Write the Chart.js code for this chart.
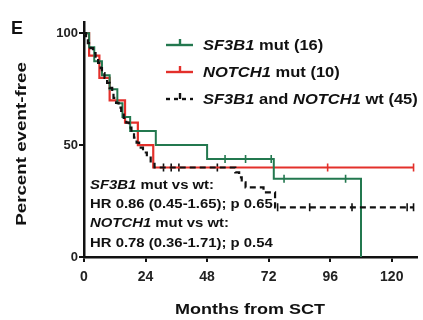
<!DOCTYPE html>
<html><head><meta charset="utf-8">
<script src="https://cdn.jsdelivr.net/npm/chart.js@4.4.1/dist/chart.umd.min.js"></script>
<style>html,body{margin:0;padding:0;background:#fff;}#wrap{width:423px;height:320px;position:relative;}</style>
</head><body><div id="wrap"><canvas id="c" width="423" height="320"></canvas></div>
<script>
// ---- data ----
const xTicks = [0, 24, 48, 72, 96, 120];
const yTicks = [0, 50, 100];

const sf3b1Times = [0, 2, 4, 7, 10, 13, 15, 18, 28, 48, 74, 108];
const sf3b1Surv  = [100, 93.75, 87.5, 81.25, 75, 68.75, 62.5, 56.25, 50, 43.75, 35, 0];
const sf3b1Censor = [55, 63, 73, 78, 102];

const notch1Times = [0, 2, 6, 10, 16, 21, 27, 128.5];
const notch1Surv  = [100, 90, 80, 70, 60, 50, 40, 40];
const notch1Censor = [95, 128.5];

const wtTimes = [0, 0.8, 1.5, 2.5, 3.5, 4.5, 5.5, 6.5, 7, 8, 9, 10, 11, 11.5, 12.5, 13.5, 14.5, 15.5, 16.5, 17.5, 18.5, 19.5, 20.5, 21.5, 23, 24.5, 26, 27.5, 59, 60.5, 61.5, 63, 70, 74.5, 128.5];
const wtSurv  = [100, 97.8, 95.6, 93.3, 91.1, 88.9, 86.7, 84.4, 82.2, 80, 77.8, 75.6, 73.3, 71.1, 68.9, 66.7, 64.4, 62.2, 60, 57.8, 55.6, 53.3, 51.1, 48.9, 46.7, 44.4, 42.2, 40, 37.8, 35.6, 33.3, 31.1, 28.9, 22.2, 22.2];
const wtCensor = [31, 34, 37, 52, 75.5, 88, 104.5, 126, 128.5];

const legendLabels = [
  [["SF3B1", true], [" mut (16)", false]],
  [["NOTCH1", true], [" mut (10)", false]],
  [["SF3B1", true], [" and ", false], ["NOTCH1", true], [" wt (45)", false]]
];
const noteLines = [
  [["SF3B1", true], [" mut vs wt:", false]],
  [["HR 0.86 (0.45-1.65); p 0.65", false]],
  [["NOTCH1", true], [" mut vs wt:", false]],
  [["HR 0.78 (0.36-1.71); p 0.54", false]]
];

const GREEN = '#23784f', RED = '#e3302b', BLACK = '#111111';
const FONT = '"Liberation Sans", Arial, sans-serif';

function pts(t, s) { return t.map((v, i) => ({x: v, y: s[i]})); }
function survAt(t, s, time) { let v = s[0]; for (let i = 0; i < t.length; i++) { if (t[i] <= time) v = s[i]; } return v; }
function censorPts(t, s, c) { return c.map(ct => ({x: ct, y: survAt(t, s, ct)})); }

function drawRich(ctx, parts, x, y, size, sx) {
  ctx.save();
  ctx.translate(x, y);
  ctx.scale(sx, 1);
  let cx = 0;
  for (const [txt, it] of parts) {
    ctx.font = (it ? 'italic ' : '') + 'bold ' + size + 'px ' + FONT;
    ctx.fillText(txt, cx, 0);
    cx += ctx.measureText(txt).width;
  }
  ctx.restore();
}

const deco = {
  id: 'deco',
  afterDraw(chart) {
    const ctx = chart.ctx;
    ctx.save();
    ctx.fillStyle = '#111';
    ctx.textBaseline = 'middle';
    ctx.textAlign = 'left';
    // panel letter
    ctx.font = 'bold 18px ' + FONT;
    ctx.fillText('E', 11, 29);
    // legend
    const cols = [GREEN, RED, BLACK];
    const ys = [45, 72, 99];
    for (let i = 0; i < 3; i++) {
      const y = ys[i];
      ctx.strokeStyle = cols[i];
      ctx.lineWidth = 2.4;
      ctx.beginPath();
      if (i === 2) ctx.setLineDash([4, 4]); else ctx.setLineDash([]);
      ctx.moveTo(166, y); ctx.lineTo(193, y); ctx.stroke();
      ctx.setLineDash([]);
      ctx.beginPath(); ctx.moveTo(180, y); ctx.lineTo(180, y - 6); ctx.stroke();
      ctx.fillStyle = '#111';
      drawRich(ctx, legendLabels[i], 203, y + 1, 14, 1.18);
    }
    // notes
    const ny = [186, 205, 224, 244];
    for (let i = 0; i < 4; i++) drawRich(ctx, noteLines[i], 90, ny[i], 12, 1.24);
    // axis titles
    ctx.textAlign = 'center';
    ctx.save();
    ctx.translate(250, 310);
    ctx.scale(1.2, 1);
    ctx.font = 'bold 15px ' + FONT;
    ctx.fillText('Months from SCT', 0, 0);
    ctx.restore();
    ctx.translate(22, 144);
    ctx.rotate(-Math.PI / 2);
    ctx.scale(1.25, 1);
    ctx.font = 'bold 15px ' + FONT;
    ctx.fillText('Percent event-free', 0, 0);
    ctx.restore();
  }
};

const censorDs = (data, color) => ({
  data, showLine: false, borderColor: color, backgroundColor: color,
  pointStyle: 'line', rotation: 90, pointRadius: 4, pointBorderWidth: 1.6, pointHoverRadius: 0
});

new Chart(document.getElementById('c'), {
  type: 'line',
  data: {
    datasets: [
      {data: pts(wtTimes, wtSurv), borderColor: BLACK, borderWidth: 2.2, borderDash: [6, 4], stepped: true, pointRadius: 0, fill: false},
      {data: pts(sf3b1Times, sf3b1Surv), borderColor: GREEN, borderWidth: 2, stepped: true, pointRadius: 0, fill: false},
      {data: pts(notch1Times, notch1Surv), borderColor: RED, borderWidth: 2.2, stepped: true, pointRadius: 0, fill: false},
      censorDs(censorPts(sf3b1Times, sf3b1Surv, sf3b1Censor), GREEN),
      censorDs(censorPts(notch1Times, notch1Surv, notch1Censor), RED),
      censorDs(censorPts(wtTimes, wtSurv, wtCensor), BLACK)
    ]
  },
  options: {
    responsive: false, animation: false,
    layout: {padding: {left: 0, right: 5, top: 22, bottom: 0}},
    plugins: {legend: {display: false}, tooltip: {enabled: false}},
    scales: {
      x: {
        type: 'linear', min: 0, max: 130,
        afterBuildTicks: s => { s.ticks = xTicks.map(v => ({value: v})); },
        afterFit: s => { s.height = 63; },
        grid: {drawOnChartArea: false, drawTicks: true, tickLength: 5, color: '#111', lineWidth: 2},
        border: {display: true, color: '#111', width: 2.5},
        ticks: {color: '#222', padding: 7, font: {family: FONT, size: 14, weight: 'bold'}, maxRotation: 0}
      },
      y: {
        min: 0, max: 105,
        afterBuildTicks: s => { s.ticks = yTicks.map(v => ({value: v})); },
        afterFit: s => { s.width = 84; },
        grid: {drawOnChartArea: false, drawTicks: true, tickLength: 5, color: '#111', lineWidth: 2},
        border: {display: true, color: '#111', width: 2.5},
        ticks: {color: '#222', padding: 1, font: {family: FONT, size: 13, weight: 'bold'}}
      }
    }
  },
  plugins: [deco]
});
</script>
</body></html>
